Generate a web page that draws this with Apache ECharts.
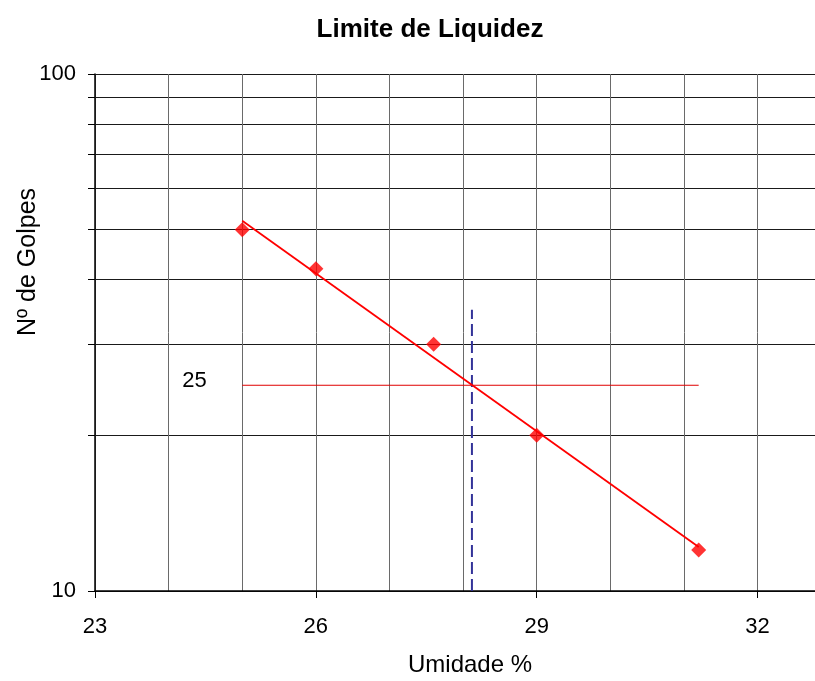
<!DOCTYPE html>
<html>
<head>
<meta charset="utf-8">
<script src="https://cdn.jsdelivr.net/npm/echarts@6/dist/echarts.min.js"></script>
<style>
  html, body { margin: 0; padding: 0; background: #fff; overflow: hidden; }
  #chart { width: 815px; height: 681px; }
</style>
</head>
<body>
<div id="chart"></div>
<script>
// Ensaio de limite de liquidez: umidade (%) x número de golpes
const umidade = [25, 26, 27.6, 29, 31.2];
const golpes = [50, 42, 30, 20, 12];

// Reta de tendência (escala log) e leitura a 25 golpes
const tendenciaX = [25, 31.2];
const tendenciaY = [52, 12.16];
const golpesRef = 25;
const limiteLiquidez = 28.12;
const linhaLLTopo = 35;

const xLabels = [23, 26, 29, 32];
const yTicks = [10, 20, 30, 40, 50, 60, 70, 80, 90, 100];
const yLabels = [10, 100];

const FONT = 'Liberation Sans, Arial, sans-serif';
const chart = echarts.init(document.getElementById('chart'));

chart.setOption({
  animation: false,
  backgroundColor: '#fff',
  title: {
    text: 'Limite de Liquidez',
    left: 425, top: 12, textAlign: 'center',
    textStyle: { fontFamily: FONT, fontSize: 26, fontWeight: 'bold', color: '#000' }
  },
  graphic: [
    {
      type: 'text', x: 470, y: 665, style: {
        text: 'Umidade %', font: '24px ' + FONT, fill: '#000',
        align: 'center', verticalAlign: 'middle'
      }
    },
    {
      type: 'text', x: 28, y: 262, rotation: Math.PI / 2, style: {
        text: 'Nº de Golpes', font: '25px ' + FONT, fill: '#000',
        align: 'center', verticalAlign: 'middle'
      }
    }
  ],
  grid: { left: 95, right: 0, top: 74, height: 517, outerBoundsMode: 'none', containLabel: false },
  xAxis: [
    {
      // a área de plotagem termina pouco antes de 33
      type: 'value', min: 23, max: 32.78, interval: 1,
      axisLine: { show: true, lineStyle: { color: '#000', width: 1.5 } },
      axisTick: { show: false },
      axisLabel: { show: false },
      splitLine: { show: true, lineStyle: { color: '#6a6a6a', width: 1 } }
    },
    {
      type: 'value', min: 23, max: 32.78, position: 'bottom',
      axisLine: { show: false },
      axisTick: { show: true, customValues: xLabels, length: 7, lineStyle: { color: '#000' } },
      axisLabel: {
        show: true, customValues: xLabels, margin: 25,
        fontFamily: FONT, fontSize: 22, color: '#000'
      },
      splitLine: { show: false }
    }
  ],
  yAxis: {
    type: 'log', logBase: 10, min: 10, max: 100,
    axisLine: { show: true, onZero: false, lineStyle: { color: '#000', width: 1.5 } },
    axisTick: { show: true, customValues: yTicks, length: 7, lineStyle: { color: '#000' } },
    axisLabel: {
      show: true, customValues: yLabels, margin: 19,
      fontFamily: FONT, fontSize: 22, color: '#000'
    },
    splitLine: { show: true, lineStyle: { color: '#1a1a1a', width: 1 } }
  },
  series: [
    {
      name: 'Tendência', type: 'line', xAxisIndex: 0,
      data: tendenciaX.map((x, i) => [x, tendenciaY[i]]),
      symbol: 'none',
      lineStyle: { color: '#ff0000', width: 1.8 }, z: 3
    },
    {
      name: '25 golpes', type: 'line', xAxisIndex: 0,
      data: [
        {
          value: [tendenciaX[0], golpesRef],
          label: {
            show: true, position: 'left', distance: 35, offset: [0, -4],
            formatter: String(golpesRef),
            fontFamily: FONT, fontSize: 22, color: '#000'
          }
        },
        [tendenciaX[1], golpesRef]
      ],
      symbol: 'circle', symbolSize: 1, showSymbol: true,
      itemStyle: { color: 'rgba(0,0,0,0)' },
      lineStyle: { color: '#e00000', width: 1 }, z: 2
    },
    {
      name: 'LL', type: 'line', xAxisIndex: 0,
      data: [[limiteLiquidez, 10], [limiteLiquidez, linhaLLTopo]],
      symbol: 'none',
      lineStyle: { color: '#333399', width: 2, type: [12, 5] }, z: 2
    },
    {
      name: 'Ensaios', type: 'scatter', xAxisIndex: 0,
      data: umidade.map((x, i) => [x, golpes[i]]),
      symbol: 'diamond', symbolSize: 15,
      itemStyle: { color: '#ff0000' }, z: 4
    }
  ]
});
</script>
</body>
</html>
